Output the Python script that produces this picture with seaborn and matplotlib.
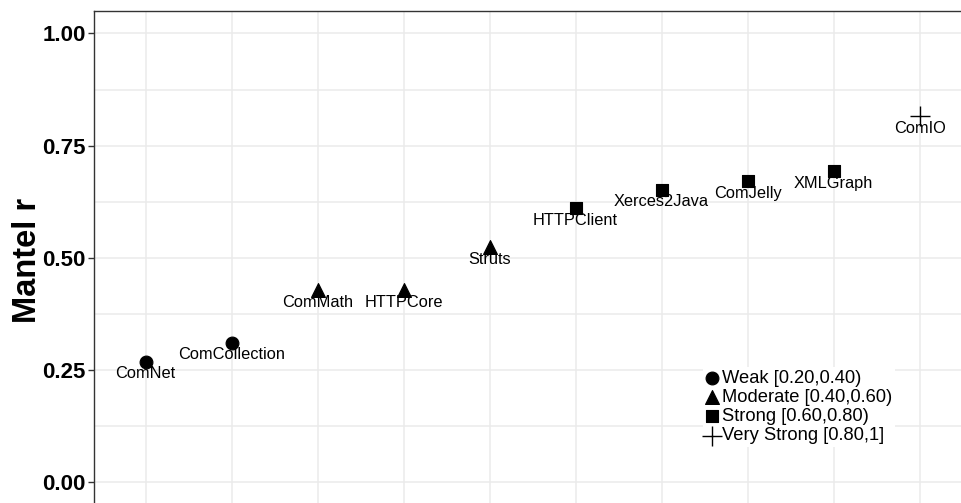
import pandas as pd
import matplotlib.pyplot as plt
import seaborn as sns

# values
projects = ["ComNet", "ComCollection", "ComMath", "HTTPCore", "Struts",
            "HTTPClient", "Xerces2Java", "ComJelly", "XMLGraph", "ComIO"]
mantel_r = [0.268, 0.31, 0.428, 0.428, 0.523, 0.61, 0.652, 0.671, 0.693, 0.815]
strength = ["Weak [0.20,0.40)", "Weak [0.20,0.40)",
            "Moderate [0.40,0.60)", "Moderate [0.40,0.60)", "Moderate [0.40,0.60)",
            "Strong [0.60,0.80)", "Strong [0.60,0.80)", "Strong [0.60,0.80)", "Strong [0.60,0.80)",
            "Very Strong [0.80,1]"]
strength_order = ["Weak [0.20,0.40)", "Moderate [0.40,0.60)",
                  "Strong [0.60,0.80)", "Very Strong [0.80,1]"]
y_ticks = [0.0, 0.25, 0.5, 0.75, 1.0]
y_minor = [0.125, 0.375, 0.625, 0.875]

df = pd.DataFrame({"project": projects, "r": mantel_r, "strength": strength})

sns.set_theme(style="white")
plt.rcParams["font.family"] = ["Liberation Sans", "DejaVu Sans"]
plt.rcParams["text.color"] = "black"
plt.rcParams["axes.labelcolor"] = "black"
plt.rcParams["ytick.color"] = "black"

fig = plt.figure(figsize=(9.61, 5.03), dpi=100)
# panel runs past the right and bottom edges, like the cropped original
ax = fig.add_axes([94 / 961, -1.5 / 503, 877.2 / 961, 493.5 / 503])

markers = {"Weak [0.20,0.40)": "o", "Moderate [0.40,0.60)": "^",
           "Strong [0.60,0.80)": "s", "Very Strong [0.80,1]": "+"}
sizes = {"Weak [0.20,0.40)": 85, "Moderate [0.40,0.60)": 100,
         "Strong [0.60,0.80)": 75, "Very Strong [0.80,1]": 190}

for s in strength_order:
    sub = df[df["strength"] == s]
    sns.scatterplot(data=sub, x="project", y="r", marker=markers[s], s=sizes[s],
                    color="black", edgecolor="black", linewidth=0.8 if s != "Very Strong [0.80,1]" else 1.0,
                    label=s, ax=ax, zorder=3)

# point labels under each point
for i, row in df.iterrows():
    ax.annotate(row["project"], (i, row["r"]),
                xytext=(0, -12), textcoords="offset pixels",
                ha="center", va="center", fontsize=11.8, color="black", zorder=4)

ax.set_xlim(-0.6, 9.6)
ax.set_ylim(-0.05, 1.05)
ax.set_yticks(y_ticks)
ax.set_yticklabels(["0.00", "0.25", "0.50", "0.75", "1.00"])
ax.set_yticks(y_minor, minor=True)
ax.tick_params(axis="y", which="major", length=4, width=1, color="#333333",
               labelcolor="black", labelsize=16, pad=2, left=True)
ax.tick_params(axis="y", which="minor", length=0)
ax.tick_params(axis="x", length=0, labelbottom=False)
for lab in ax.get_yticklabels():
    lab.set_fontweight("bold")

ax.grid(True, which="major", color="#ebebeb", linewidth=1.1, zorder=0)
ax.grid(True, which="minor", axis="y", color="#ebebeb", linewidth=1.1, zorder=0)
ax.set_axisbelow(True)

for sp in ax.spines.values():
    sp.set_color("#333333")
    sp.set_linewidth(1.0)

ax.set_xlabel("")
ax.set_ylabel("Mantel r", fontsize=23.5, fontweight="bold", color="black")
ax.yaxis.label.set_va("center")
ax.yaxis.set_label_coords(-0.0757, 0.4954)

handles, labels = ax.get_legend_handles_labels()
leg = ax.legend(handles, labels, loc="upper left",
                bbox_to_anchor=(703 / 961, 1 - 367 / 503), bbox_transform=fig.transFigure,
                frameon=True, fancybox=False, framealpha=1, edgecolor="none",
                facecolor="white", fontsize=13.2, handlelength=0.7,
                handletextpad=0.2, labelspacing=0.12, borderpad=0.15,
                borderaxespad=0)
for t in leg.get_texts():
    t.set_color("black")

fig.savefig("out.png", dpi=100)
